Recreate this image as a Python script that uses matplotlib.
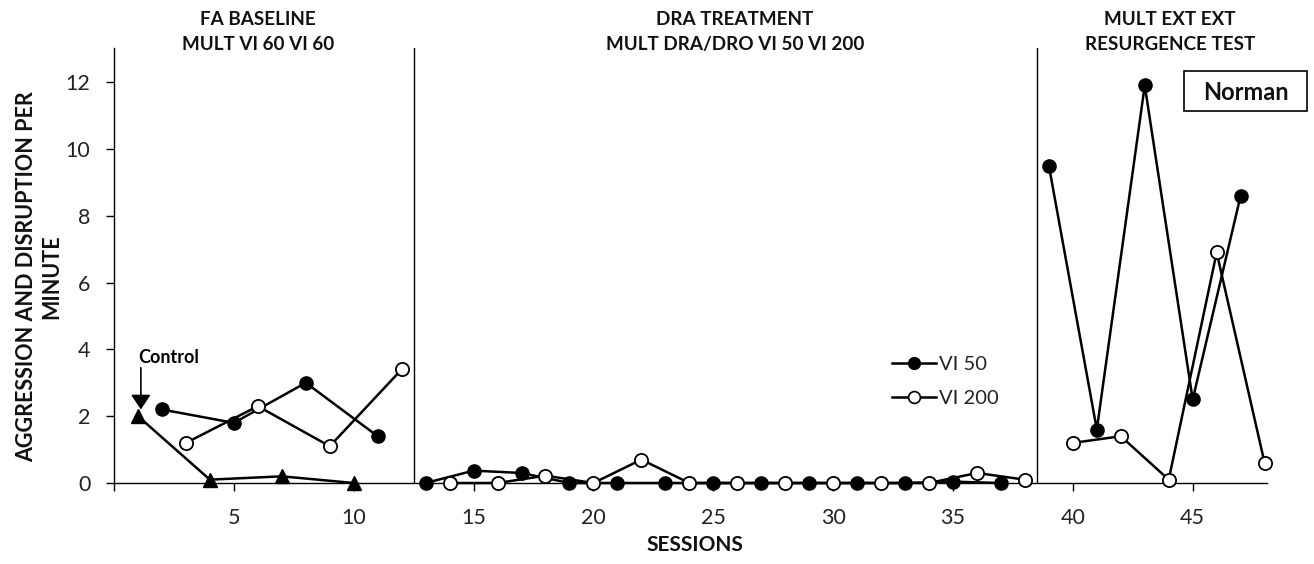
import matplotlib
matplotlib.use("Agg")
import matplotlib.pyplot as plt
from matplotlib.lines import Line2D
from matplotlib.patches import Rectangle

plt.rcParams['font.family'] = ['Lato', 'DejaVu Sans']

# ---------------- data ----------------
control_sessions = [1, 4, 7, 10]
control_values = [2.0, 0.1, 0.2, 0.0]

base_vi50_sessions = [2, 5, 8, 11]
base_vi50_values = [2.2, 1.8, 3.0, 1.4]
base_vi200_sessions = [3, 6, 9, 12]
base_vi200_values = [1.2, 2.3, 1.1, 3.4]

dra_vi50_sessions = [13, 15, 17, 19, 21, 23, 25, 27, 29, 31, 33, 35, 37]
dra_vi50_values = [0, 0.37, 0.3, 0, 0, 0, 0, 0, 0, 0, 0, 0.04, 0]
dra_vi200_sessions = [14, 16, 18, 20, 22, 24, 26, 28, 30, 32, 34, 36, 38]
dra_vi200_values = [0, 0, 0.22, 0, 0.7, 0, 0, 0, 0, 0, 0, 0.3, 0.1]

ext_vi50_sessions = [39, 41, 43, 45, 47]
ext_vi50_values = [9.5, 1.6, 11.9, 2.5, 8.6]
ext_vi200_sessions = [40, 42, 44, 46, 48]
ext_vi200_values = [1.2, 1.4, 0.1, 6.9, 0.6]

phase_changes = [12.5, 38.5]
phase_titles = ["FA BASELINE\nMULT VI 60 VI 60",
                "DRA TREATMENT\nMULT DRA/DRO VI 50 VI 200",
                "MULT EXT EXT\nRESURGENCE TEST"]
x_ticks = [0, 5, 10, 15, 20, 25, 30, 35, 40, 45]
x_ticklabels = ["", "5", "10", "15", "20", "25", "30", "35", "40", "45"]
y_ticks = [0, 2, 4, 6, 8, 10, 12]
series_labels = ["VI 50", "VI 200"]
participant = "Norman"

# ---------------- figure ----------------
W, H = 1314, 564
fig = plt.figure(figsize=(W / 100, H / 100), dpi=100)
ax = fig.add_axes([114 / W, 1 - 483 / H, 1153 / W, 435 / H])
ax.set_xlim(0, 48.1)
ax.set_ylim(0, 13.02)

for s in ['top', 'right']:
    ax.spines[s].set_visible(False)
for s in ['left', 'bottom']:
    ax.spines[s].set_linewidth(1.0)
    ax.spines[s].set_color('black')

ax.set_xticks(x_ticks)
ax.set_xticklabels(x_ticklabels)
ax.set_yticks(y_ticks)
ax.tick_params(axis='both', direction='out', length=6, width=1.0,
               labelsize=15.5, colors='black')
ax.tick_params(axis='y', pad=11)
ax.tick_params(axis='x', pad=12)
for lab in ax.get_xticklabels() + ax.get_yticklabels():
    lab.set_color('#222222')

for xc in phase_changes:
    ax.axvline(xc, color='black', lw=1.0, zorder=1)

lw = 1.8
ms = 9.5
filled = dict(color='black', lw=lw, marker='o', ms=ms, mfc='black',
              mec='black', clip_on=False, zorder=4)
opened = dict(color='black', lw=lw, marker='o', ms=ms, mfc='white',
              mec='black', mew=1.3, clip_on=False, zorder=5)

ax.plot(control_sessions, control_values, color='black', lw=lw, marker='^',
        ms=10, mfc='black', mec='black', clip_on=False, zorder=4)

ax.plot(base_vi50_sessions, base_vi50_values, **filled)
ax.plot(base_vi200_sessions, base_vi200_values, **opened)
ax.plot(dra_vi50_sessions, dra_vi50_values, **filled)
ax.plot(dra_vi200_sessions, dra_vi200_values, **opened)
ax.plot(ext_vi50_sessions, ext_vi50_values, **filled)
ax.plot(ext_vi200_sessions, ext_vi200_values, **opened)

# Control annotation
ax.text(1.0, 3.75, "Control", fontsize=13, fontweight='bold',
        ha='left', va='center', color='black')
ax.annotate("", xy=(1.12, 2.2), xytext=(1.12, 3.45),
            arrowprops=dict(arrowstyle='-|>,head_length=0.75,head_width=0.5',
                            color='black', lw=1.2, mutation_scale=12,
                            shrinkA=0, shrinkB=0))

# legend
handles = [Line2D([], [], color='black', lw=lw, marker='o', ms=8.5,
                  mfc='black', mec='black'),
           Line2D([], [], color='black', lw=lw, marker='o', ms=8.5,
                  mfc='white', mec='black', mew=1.2)]
leg = ax.legend(handles, series_labels, loc='upper left',
                bbox_to_anchor=(892 / W, 1 - 356 / H),
                bbox_transform=fig.transFigure, frameon=False,
                fontsize=14.5, handlelength=2.2, handletextpad=0.12,
                labelspacing=0.85, borderpad=0, borderaxespad=0)
for t in leg.get_texts():
    t.set_color('#222222')

# phase titles
title_x = [258, 735, 1170]
for tx, tt in zip(title_x, phase_titles):
    fig.text(tx / W, 1 - 32 / H, tt, ha='center', va='center',
             fontsize=13.6, fontweight='bold', linespacing=1.55,
             color='#111111')

# participant box
fig.patches.append(Rectangle((1184 / W, 1 - 111 / H), 123 / W, 40 / H,
                             transform=fig.transFigure, fill=False,
                             edgecolor='black', lw=1.2))
fig.text(1245.5 / W, 1 - 92 / H, participant, ha='center', va='center',
         fontsize=17, fontweight='bold', color='#111111')

# axis labels
fig.text(39 / W, 1 - 277 / H, "AGGRESSION AND DISRUPTION PER\nMINUTE",
         rotation=90, ha='center', va='center', fontsize=15.5,
         fontweight='bold', multialignment='center', linespacing=1.25,
         color='#111111')
fig.text(695 / W, 1 - 545 / H, "SESSIONS", ha='center', va='center',
         fontsize=15, fontweight='bold', color='#111111')

fig.savefig("out.png", dpi=100)
